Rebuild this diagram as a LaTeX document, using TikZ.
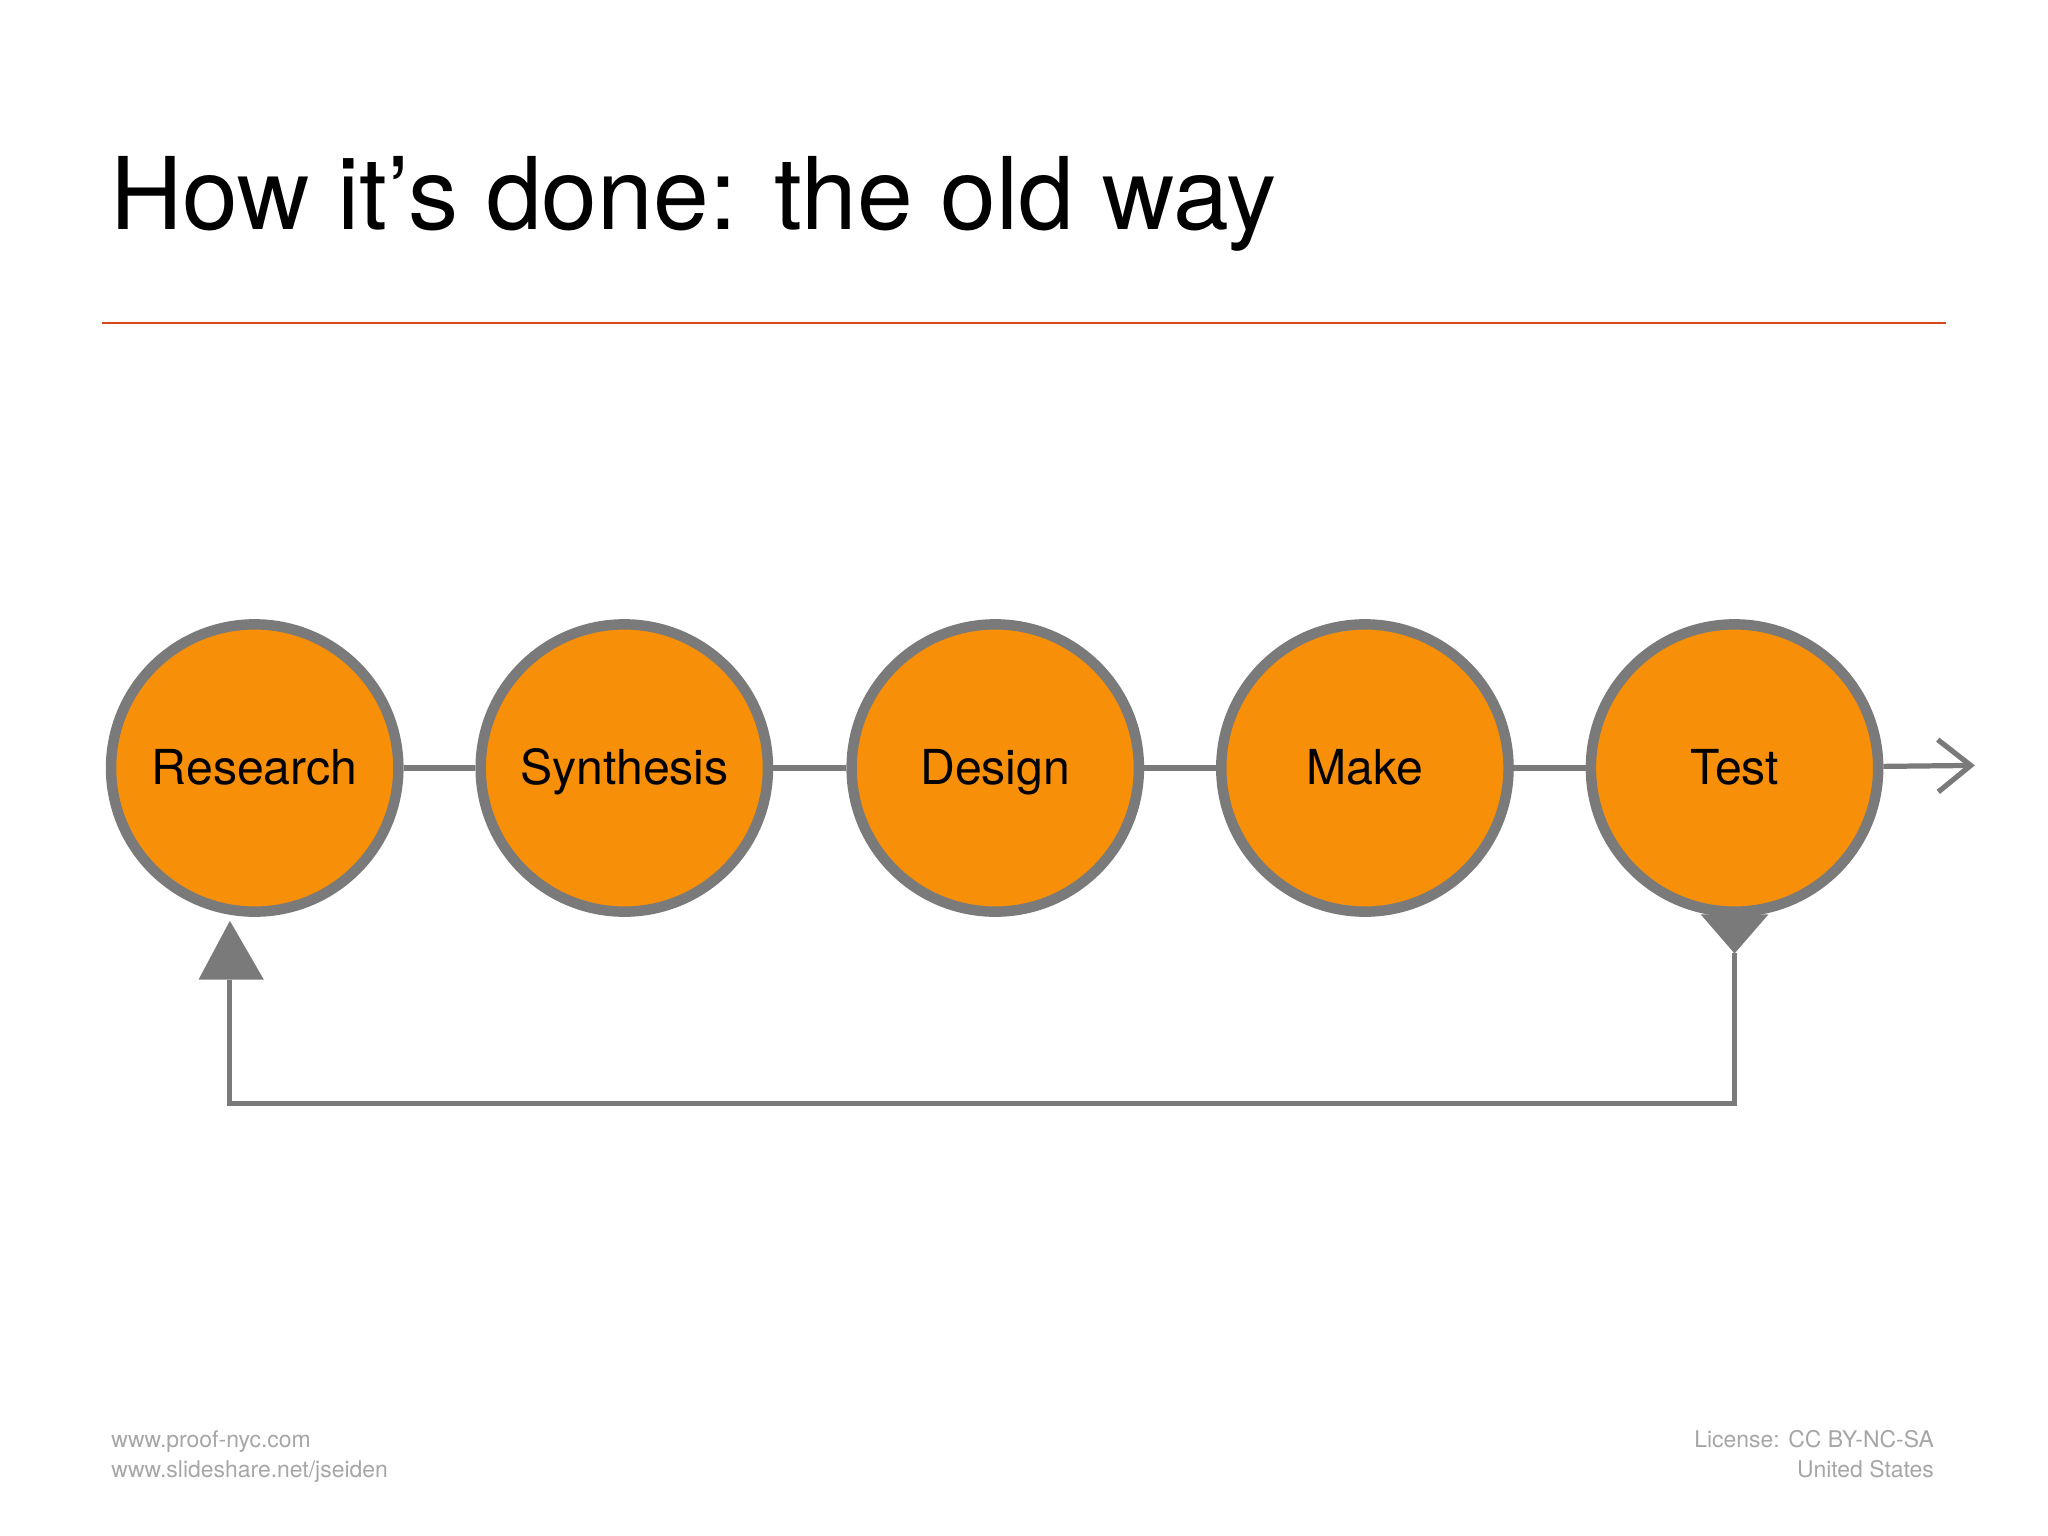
\documentclass[tikz,border=0pt]{standalone}
\usepackage{fontspec}
\setmainfont{TeX Gyre Heros}
\usetikzlibrary{arrows.meta}
\definecolor{org}{HTML}{F78F08}
\definecolor{gr}{HTML}{7A7A7A}
\definecolor{rl}{HTML}{D9461A}
\tikzset{
 stage/.style={circle,draw=gr,line width=0.16cm,fill=org,minimum size=4.4cm,inner sep=0pt,text height=0.55cm,text depth=0.05cm,font=\fontsize{21}{24}\selectfont},
 link/.style={draw=gr,line width=0.08cm},
 foot/.style={text=gray!70,font=\fontsize{10}{13}\selectfont,inner sep=0pt}
}
\begin{document}
\begin{tikzpicture}[x=0.02cm,y=-0.02cm]
\useasboundingbox (0,0) rectangle (1568,1176);
\node[anchor=base west,inner sep=0pt,font=\fontsize{43.7}{48}\selectfont] (title) at (84,176) {How it’s done: the old way};
\draw[rl,line width=0.03cm] (78,247) -- (1490,247);
\node[stage] (r) at (195,588) {Research};
\node[stage] (s) at (478,588) {Synthesis};
\node[stage] (d) at (762,588) {Design};
\node[stage] (m) at (1045,588) {Make};
\node[stage] (t) at (1328,588) {Test};
\draw[link] (r) -- (s);
\draw[link] (s) -- (d);
\draw[link] (d) -- (m);
\draw[link] (m) -- (t);
\coordinate (e) at (1512,586);
\draw[link,-{Straight Barb[length=0.5cm,width=0.8cm,line width=0.08cm]}] (t) -- (e);
\coordinate (tb) at (1328,730);
\coordinate (c1) at (1328,845);
\coordinate (c2) at (176,845);
\coordinate (rb) at (176,705);
\fill[gr] (1302,700) -- (1354,700) -- (tb) -- cycle;
\draw[link] (tb) -- (c1) -- (c2) -- (176,750);
\fill[gr] (rb) -- (152,750) -- (202,750) -- cycle;
\node[foot,anchor=north west,align=left] (f1) at (85,1095) {www.proof-nyc.com\\www.slideshare.net/jseiden};
\node[foot,anchor=north east,align=right] (f2) at (1481,1095) {License: CC BY-NC-SA\\United States};
\end{tikzpicture}
\end{document}
